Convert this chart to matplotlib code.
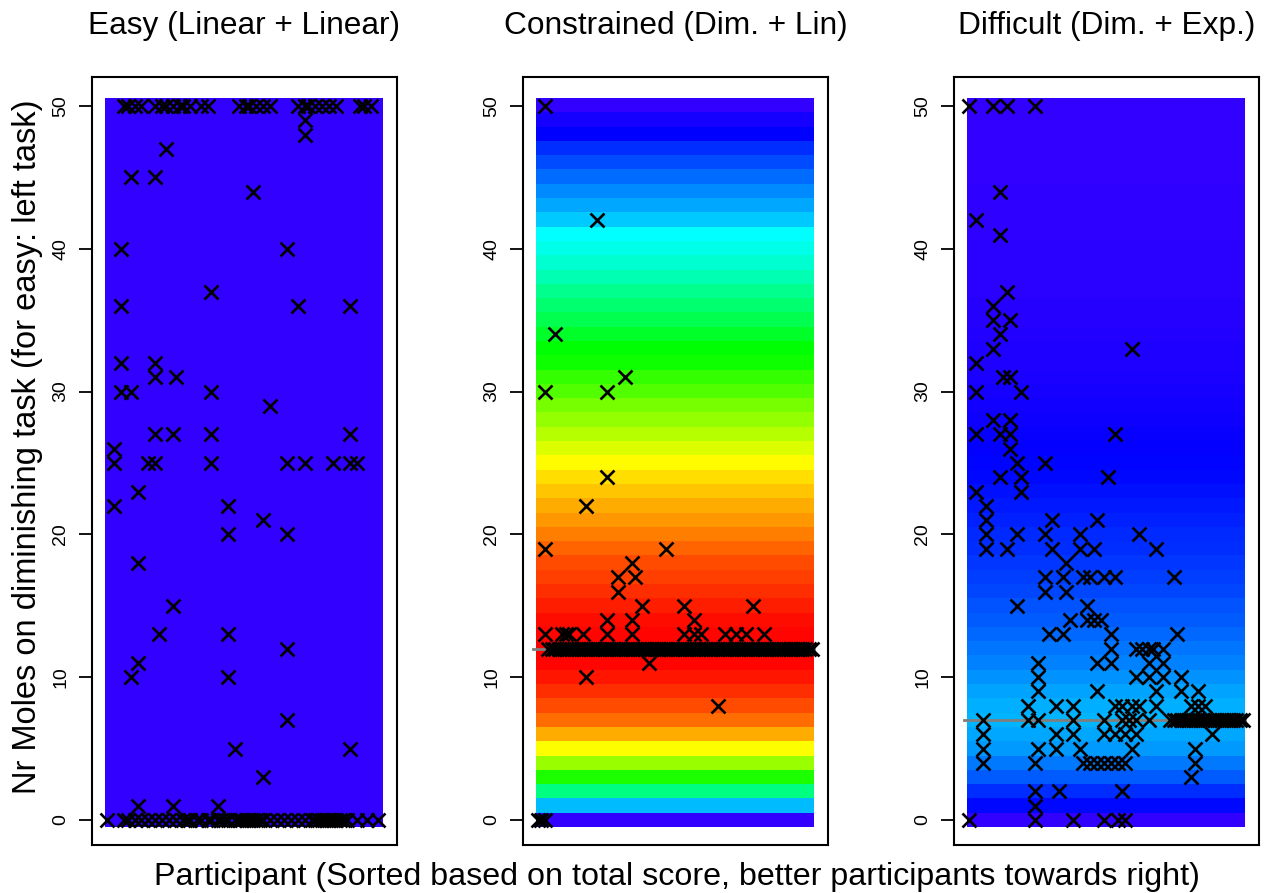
import numpy as np
import matplotlib
matplotlib.use("Agg")
import matplotlib.pyplot as plt
from matplotlib.colors import ListedColormap, hsv_to_rgb

plt.rcParams["font.family"] = ["Liberation Sans", "DejaVu Sans"]

# ==============================
# DATA
# ==============================

N_PARTICIPANTS = 80
MOLES = list(range(0, 51))   # y rows of the background map

titles = ["Easy (Linear + Linear)", "Constrained (Dim. + Lin)", "Difficult (Dim. + Exp.)"]

# relative score of each "moles on diminishing task" value (0 = worst, 1 = best)
easy_score = [0.0] * 51
constr_score = [0.00, 0.226, 0.404, 0.547, 0.667, 0.761, 0.836, 0.896, 0.926, 0.956,
                0.977, 0.993, 1.000, 0.993, 0.986, 0.971, 0.957, 0.940, 0.926, 0.903,
                0.881, 0.857, 0.836, 0.814, 0.791, 0.764, 0.729, 0.693, 0.664, 0.636,
                0.600, 0.571, 0.536, 0.521, 0.486, 0.450, 0.421, 0.393, 0.357, 0.329,
                0.307, 0.286, 0.236, 0.207, 0.179, 0.150, 0.121, 0.093, 0.050, 0.029,
                0.000]
diff_score = [0.000, 0.057, 0.093, 0.136, 0.164, 0.193, 0.207, 0.217, 0.211, 0.200,
              0.186, 0.171, 0.157, 0.147, 0.136, 0.126, 0.117, 0.109, 0.100, 0.091,
              0.086, 0.079, 0.071, 0.064, 0.057, 0.051, 0.046, 0.041, 0.037, 0.033,
              0.029, 0.026, 0.023, 0.020, 0.017, 0.014, 0.012, 0.011, 0.010, 0.009,
              0.008, 0.007, 0.006, 0.005, 0.004, 0.003, 0.003, 0.002, 0.001, 0.001,
              0.000]

optimum = [None, 12, 7]

# --- Easy panel: participant index -> moles
easy_at_50 = [6, 7, 9, 11, 15, 17, 18, 20, 22, 23, 25, 28, 30, 39, 41, 42, 44, 46, 48,
              56, 58, 59, 61, 63, 65, 67, 74, 75, 77]
easy_at_0 = [1, 6, 7, 9, 11, 13, 15, 17, 19, 21, 23, 24, 25, 27, 28, 30, 31, 33, 34, 35,
             36, 38, 39, 40, 41, 42, 43, 44, 45, 46, 48, 50, 52, 54, 56, 58, 60, 61, 62,
             63, 64, 65, 66, 67, 68, 69, 70, 73, 76, 79]
easy_other = [(58, 49), (58, 48), (18, 47), (8, 45), (15, 45), (43, 44), (5, 40), (53, 40),
              (31, 37), (5, 36), (56, 36), (71, 36), (5, 32), (15, 32), (15, 31), (21, 31),
              (5, 30), (8, 30), (31, 30), (48, 29), (15, 27), (20, 27), (31, 27), (71, 27),
              (3, 26), (3, 25), (13, 25), (15, 25), (31, 25), (53, 25), (58, 25), (66, 25),
              (71, 25), (73, 25), (10, 23), (3, 22), (36, 22), (46, 21), (36, 20), (53, 20),
              (10, 18), (20, 15), (16, 13), (36, 13), (53, 12), (10, 11), (8, 10), (36, 10),
              (53, 7), (38, 5), (71, 5), (46, 3), (10, 1), (20, 1), (33, 1)]

# --- Constrained panel
constr_at_12 = [4, 5, 6, 7, 8, 9, 10, 11, 12, 13, 14, 15, 16, 17, 18, 19, 20, 21, 22, 23,
                24, 25, 26, 27, 28, 29, 30, 31, 32, 33, 34, 35, 36, 37, 38, 39, 40, 41, 42,
                43, 44, 45, 46, 47, 48, 49, 50, 51, 52, 53, 54, 55, 56, 57, 58, 59, 60, 61,
                62, 63, 64, 65, 66, 67, 68, 69, 70, 71, 72, 73, 74, 75, 76, 77, 78, 79, 80]
constr_at_13 = [3, 8, 9, 10, 14, 21, 28, 43, 46, 48, 55, 58, 61, 66]
constr_at_0 = [1, 2, 3]
constr_other = [(3, 50), (18, 42), (6, 34), (26, 31), (3, 30), (21, 30), (21, 24), (15, 22),
                (3, 19), (38, 19), (28, 18), (24, 17), (29, 17), (24, 16), (31, 15), (43, 15),
                (63, 15), (21, 14), (28, 14), (46, 14), (33, 11), (15, 10), (53, 8)]

# --- Difficult panel
diff_at_7 = [5, 18, 21, 31, 40, 45, 47, 49, 53, 59, 60, 61, 62, 63, 64, 65, 66, 67, 68,
             69, 70, 71, 72, 73, 74, 75, 76, 77, 78, 79, 80]
diff_at_0 = [1, 20, 31, 40, 44, 46]
diff_other = [(1, 50), (8, 50), (12, 50), (20, 50), (10, 44), (3, 42), (10, 41), (12, 37),
              (8, 36), (8, 35), (13, 35), (10, 34), (8, 33), (48, 33), (3, 32), (11, 31),
              (13, 31), (3, 30), (16, 30), (8, 28), (13, 28), (3, 27), (10, 27), (13, 27),
              (43, 27), (13, 26), (15, 25), (23, 25), (10, 24), (16, 24), (41, 24), (16, 23),
              (3, 23), (6, 22), (6, 21), (6, 20), (6, 19), (25, 21), (38, 21), (15, 20),
              (23, 20), (33, 20), (50, 20), (12, 19), (25, 19), (33, 19), (37, 19), (55, 19),
              (29, 18), (23, 17), (28, 17), (34, 17), (36, 17), (40, 17), (43, 17), (60, 17),
              (23, 16), (29, 16), (15, 15), (35, 15), (30, 14), (35, 14), (37, 14), (39, 14),
              (24, 13), (28, 13), (42, 13), (61, 13), (42, 12), (49, 12), (51, 12), (53, 12),
              (54, 12), (57, 12), (21, 11), (38, 11), (42, 11), (53, 11), (57, 11), (21, 10),
              (49, 10), (53, 10), (57, 10), (62, 10), (21, 9), (38, 9), (55, 9), (62, 9),
              (67, 9), (18, 8), (26, 8), (31, 8), (43, 8), (45, 8), (48, 8), (50, 8), (55, 8),
              (65, 8), (67, 8), (69, 8), (5, 6), (26, 6), (31, 6), (40, 6), (43, 6), (46, 6),
              (49, 6), (71, 6), (5, 5), (21, 5), (26, 5), (33, 5), (48, 5), (66, 5), (5, 4),
              (20, 4), (34, 4), (36, 4), (38, 4), (40, 4), (42, 4), (44, 4), (46, 4), (66, 4),
              (65, 3), (20, 2), (27, 2), (45, 2), (20, 1)]


def collect(row_lists, other):
    xs, ys = [], []
    for val, parts in row_lists:
        xs += parts
        ys += [val] * len(parts)
    for p, v in other:
        xs.append(p)
        ys.append(v)
    return xs, ys


panels = [
    (easy_score, collect([(50, easy_at_50), (0, easy_at_0)], easy_other)),
    (constr_score, collect([(12, constr_at_12), (13, constr_at_13), (0, constr_at_0)], constr_other)),
    (diff_score, collect([(7, diff_at_7), (0, diff_at_0)], diff_other)),
]

# rainbow from violet-blue (worst) to red (best), like R's rainbow(end=0.7)
t = np.linspace(0, 1, 256)
hsv = np.stack([0.7 * (1 - t), np.ones_like(t), np.ones_like(t)], axis=1)
score_cmap = ListedColormap(hsv_to_rgb(hsv))

# ==============================
# Plot
# ==============================

W, H = 1265, 893
fig = plt.figure(figsize=(W / 100, H / 100), dpi=100)

lefts = [92, 523, 954]
box_w, box_top, box_bot = 305, 77, 845

for k, (score, (xs, ys)) in enumerate(panels):
    ax = fig.add_axes([lefts[k] / W, 1 - box_bot / H, box_w / W, (box_bot - box_top) / H])
    img = np.array(score).reshape(-1, 1)
    ax.imshow(img, cmap=score_cmap, vmin=0, vmax=1, aspect="auto", origin="lower",
              interpolation="nearest",
              extent=(0.5, N_PARTICIPANTS + 0.5, MOLES[0] - 0.5, MOLES[-1] + 0.5))
    if optimum[k] is not None:
        ax.plot([-0.5, N_PARTICIPANTS + 0.5], [optimum[k], optimum[k]],
                color="#7f7f7f", lw=2, zorder=2)
    ax.plot(xs, ys, linestyle="none", marker="x", color="black",
            markersize=9.5, markeredgewidth=1.9, zorder=3)

    ax.set_xlim(-3.24, 84.53)
    ax.set_ylim(-1.75, 52.03)
    ax.set_xticks([])
    ax.set_yticks([0, 10, 20, 30, 40, 50])
    ax.tick_params(axis="y", labelrotation=90, labelsize=14, length=9.5, width=1.3, pad=7)
    for lab in ax.get_yticklabels():
        lab.set_va("center")
    for s in ax.spines.values():
        s.set_linewidth(1.5)

    fig.text((lefts[k] + box_w / 2) / W, 1 - 34 / H, titles[k],
             ha="center", va="baseline", fontsize=22.8)

fig.text(677 / W, 1 - 885 / H,
         "Participant (Sorted based on total score, better participants towards right)",
         ha="center", va="baseline", fontsize=23.2)
fig.text(28 / W, 1 - 447 / H, "Nr Moles on diminishing task (for easy: left task)",
         ha="center", va="center", rotation=90, fontsize=23.5)

fig.savefig("out.png", dpi=100)
